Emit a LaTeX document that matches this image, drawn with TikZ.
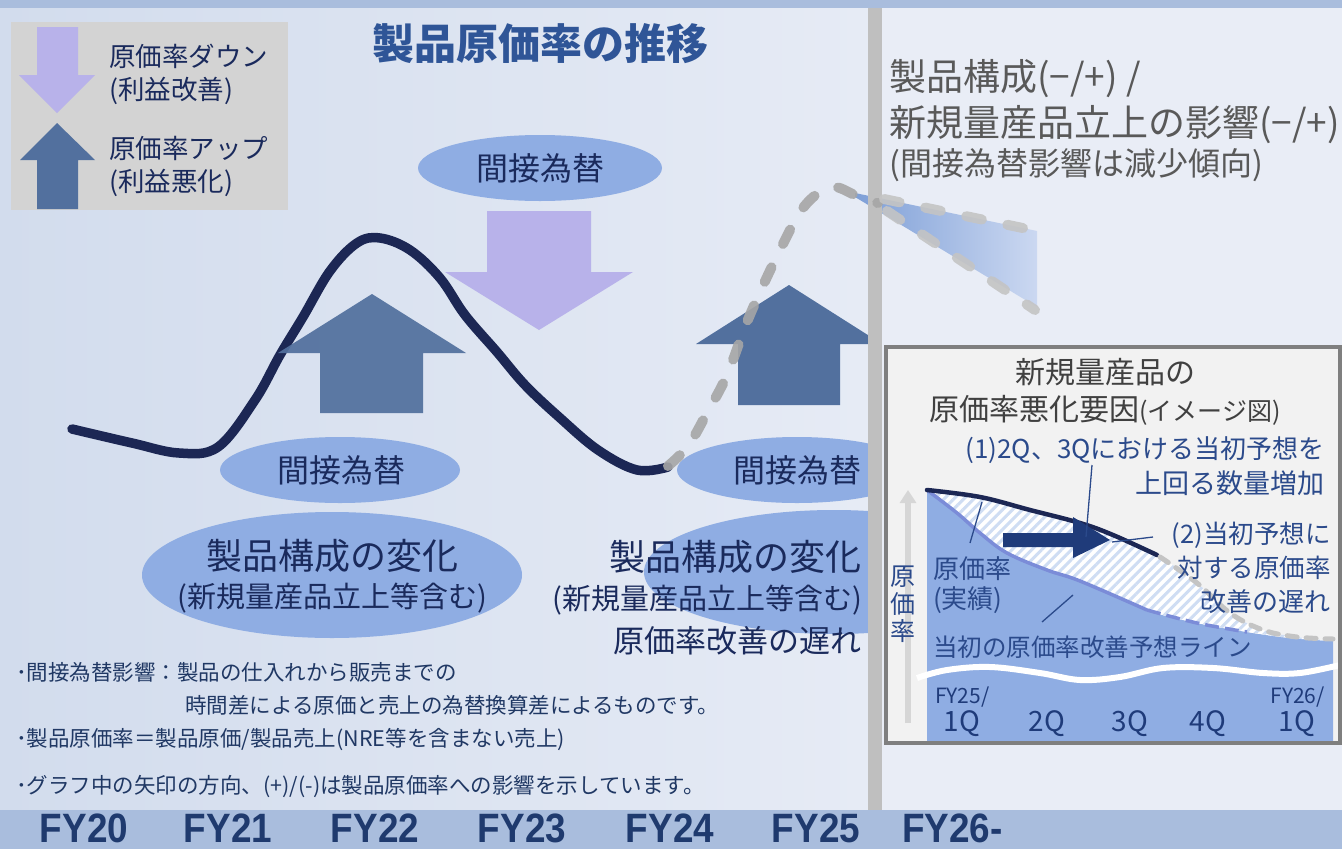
\documentclass[tikz,border=0pt]{standalone}
\usepackage{fontspec}
\newfontfamily\jp{Noto Sans CJK JP}
\newfontfamily\lsb{Liberation Sans}
\usetikzlibrary{patterns.meta,arrows.meta}
\definecolor{bgtop}{HTML}{A9BDDD}
\definecolor{bgL}{HTML}{D2DCED}
\definecolor{bgR}{HTML}{E6EBF5}
\definecolor{bgRt}{HTML}{E9EDF6}
\definecolor{barc}{HTML}{BFBFBF}
\definecolor{legbox}{HTML}{D3D3D3}
\definecolor{lav}{HTML}{B8B2EA}
\definecolor{upc}{HTML}{52709E}
\definecolor{ellc}{HTML}{8FADE3}
\definecolor{navy}{HTML}{1A2A5C}
\definecolor{curvec}{HTML}{1C2754}
\definecolor{titlec}{HTML}{2F5597}
\definecolor{grayt}{HTML}{595959}
\definecolor{dashc}{HTML}{A6A6A6}
\definecolor{dashc2}{HTML}{C4C4C4}
\definecolor{wedgeL}{HTML}{7E9FD7}
\definecolor{wedgeR}{HTML}{CBD8F1}
\definecolor{insetbg}{HTML}{F2F2F2}
\definecolor{insetbd}{HTML}{7F7F7F}
\definecolor{insett}{HTML}{404040}
\definecolor{blt}{HTML}{2B4A8B}
\definecolor{fcline}{HTML}{7B8CD8}
\definecolor{hatchc}{HTML}{CFDDF3}
\definecolor{axc}{HTML}{D6D6D6}
\definecolor{bigarrow}{HTML}{1F3B7A}
\definecolor{notec}{HTML}{203864}
\definecolor{fyc}{HTML}{1F3A6E}
\newcommand{\fsz}[1]{\fontsize{#1}{#1}\selectfont}
\begin{document}
\begin{tikzpicture}[x=1pt,y=-1pt,
 txt/.style={inner sep=0pt},
 legtxt/.style={txt, text=navy, anchor=west, font={\jp\fsz{26.5}}},
 elltxt/.style={txt, text=navy},
 rtxt/.style={txt, text=grayt, anchor=west},
 intxt/.style={txt, text=blt},
 notetxt/.style={txt, text=notec, anchor=west, font={\jp\fsz{21.5}}},
 fylbl/.style={inner sep=0pt, text=fyc, font={\lsb\bfseries\fsz{41}}},
 dashline/.style={line width=10, line cap=round, dash pattern=on 16pt off 26pt},
 leader/.style={blt, line width=1.3},
]
\path[use as bounding box] (0,0) rectangle (1342,849);

% background
\fill[bgtop] (0,0) rectangle (1342,8);
\shade[left color=bgL, right color=bgR] (0,8) rectangle (868,810);
\fill[bgRt] (882,8) rectangle (1342,810);
\fill[bgtop] (0,810) rectangle (1342,849);

% legend
\fill[legbox] (11,22) rectangle (288,210);
\fill[lav] (37,27) -- (78,27) -- (78,75) -- (95,75) -- (57,113) -- (19,75) -- (37,75) -- cycle;
\fill[upc] (57,123) -- (95,160) -- (78,160) -- (78,209) -- (37,209) -- (37,160) -- (20,160) -- cycle;
\node[legtxt] (lg1) at (109,56) {原価率ダウン};
\node[legtxt] (lg2) at (109,91) {(利益改善)};
\node[legtxt] (lg3) at (109,148) {原価率アップ};
\node[legtxt] (lg4) at (109,183) {(利益悪化)};

% title
\node[txt, text=titlec, font={\jp\bfseries\fsz{42}}] (title) at (540,44) {製品原価率の推移};

% left ellipses
\fill[ellc] (540,168) ellipse [x radius=122, y radius=33];
\fill[ellc] (340,470) ellipse [x radius=120, y radius=33];
\fill[ellc] (332,575) ellipse [x radius=190, y radius=63];

% clipped right ellipses
\begin{scope}
\clip (0,8) rectangle (868,810);
\fill[ellc] (797,470) ellipse [x radius=120, y radius=33];
\fill[ellc] (834,572) ellipse [x radius=190, y radius=62];
\end{scope}

% lavender arrow
\fill[lav] (487,211) -- (591,211) -- (591,272) -- (633,272) -- (539,330) -- (445,272) -- (487,272) -- cycle;

% main curve
\draw[curvec, line width=9.5, line cap=round] plot[smooth, tension=0.6] coordinates
 {(72,429) (132,443) (179,453) (218,447) (255,400) (280,355) (303,317) (330,271) (357,243) (380,238) (410,250) (440,278) (465,315) (497,352) (525,385) (559,417) (598,450) (637,470) (668,467)};

% up arrows over the curve
\fill[upc, opacity=0.93] (372,294) -- (466,353) -- (423,353) -- (423,413) -- (320,413) -- (320,353) -- (278,353) -- cycle;
\begin{scope}
\clip (0,8) rectangle (868,810);
\fill[upc] (789,285) -- (882,344) -- (840,344) -- (840,405) -- (738,405) -- (738,344) -- (696,344) -- cycle;
\end{scope}

% wedge right of bar
\shade[left color=wedgeL, right color=wedgeR] (855,193) -- (1037,231) -- (1037,307) -- (855,197) -- cycle;

% vertical bar
\fill[barc] (868,8) rectangle (882,810);

% dashed forecast curves
\draw[dashc, dashline, opacity=0.9] plot[smooth, tension=0.6] coordinates
 {(668,466) (688,446) (707,413) (727,375) (747,322) (767,277) (785,240) (800,212) (817,194) (835,187) (857,196) (878,203)};
\draw[dashc2, dashline, opacity=0.9] (884,199) -- (1037,231);
\draw[dashc2, dashline, opacity=0.9] (887,211) -- (1035,310);

% ellipse texts
\node[elltxt, font={\jp\fsz{32}}] (e1) at (540,168) {間接為替};
\node[elltxt, font={\jp\fsz{32}}] (e2) at (341,470) {間接為替};
\node[elltxt, font={\jp\fsz{36}}] (e3) at (332,556) {製品構成の変化};
\node[elltxt, font={\jp\fsz{29}}] (e4) at (332,598) {(新規量産品立上等含む)};
\node[elltxt, font={\jp\fsz{32}}] (e5) at (797,470) {間接為替};
\node[elltxt, anchor=east, font={\jp\fsz{36}}] (e6) at (862,557) {製品構成の変化};
\node[elltxt, anchor=east, font={\jp\fsz{29}}] (e7) at (862,600) {(新規量産品立上等含む)};
\node[elltxt, anchor=east, font={\jp\fsz{31}}] (e8) at (862,641) {原価率改善の遅れ};

% right top texts
\node[rtxt, font={\jp\fsz{37}}] (t1) at (889,79) {製品構成(−/+) /};
\node[rtxt, font={\jp\fsz{37}}] (t2) at (889,125) {新規量産品立上の影響(−/+)};
\node[rtxt, font={\jp\fsz{32}}] (t3) at (889,165) {(間接為替影響は減少傾向)};

% notes
\node[notetxt] (n1) at (16,672) {･間接為替影響：製品の仕入れから販売までの};
\node[notetxt] (n2) at (185,705) {時間差による原価と売上の為替換算差によるものです。};
\node[notetxt] (n3) at (16,740) {･製品原価率＝製品原価/製品売上(NRE等を含まない売上)};
\node[notetxt] (n4) at (16,787) {･グラフ中の矢印の方向、(+)/(-)は製品原価率への影響を示しています。};

% FY labels
\node[fylbl] (fy20) at (84,828) {\scalebox{0.9}[1]{FY20}};
\node[fylbl] (fy21) at (228,828) {\scalebox{0.9}[1]{FY21}};
\node[fylbl] (fy22) at (375,828) {\scalebox{0.9}[1]{FY22}};
\node[fylbl] (fy23) at (522,828) {\scalebox{0.9}[1]{FY23}};
\node[fylbl] (fy24) at (670,828) {\scalebox{0.9}[1]{FY24}};
\node[fylbl] (fy25) at (816,828) {\scalebox{0.9}[1]{FY25}};
\node[fylbl, anchor=west] (fy26) at (902,828) {\scalebox{0.9}[1]{FY26-}};

% inset
\fill[insetbg] (886,347) rectangle (1340,743);
\begin{scope}
\clip (888,349) rectangle (1338,741);
\fill[ellc] plot[smooth, tension=0.6] coordinates
 {(927,490) (957,513) (980,533) (1007,553) (1047,570) (1080,581) (1147,610) (1197,623) (1247,632) (1290,638) (1333,641)}
 -- (1333,741) -- (927,741) -- cycle;
\fill[white] plot[smooth, tension=0.6] coordinates
 {(927,490) (980,497) (1030,510) (1080,523) (1113,535) (1157,555) (1197,583) (1230,613) (1263,630) (1297,637) (1333,641)}
 -- plot[smooth, tension=0.6] coordinates
 {(1333,641) (1290,638) (1247,632) (1197,623) (1147,610) (1080,581) (1047,570) (1007,553) (980,533) (957,513) (927,490)} -- cycle;
\fill[pattern={Lines[angle=45, distance=7pt, line width=3pt]}, pattern color=hatchc] plot[smooth, tension=0.6] coordinates
 {(927,490) (980,497) (1030,510) (1080,523) (1113,535) (1157,555) (1197,583) (1230,613) (1263,630) (1297,637) (1333,641)}
 -- plot[smooth, tension=0.6] coordinates
 {(1333,641) (1290,638) (1247,632) (1197,623) (1147,610) (1080,581) (1047,570) (1007,553) (980,533) (957,513) (927,490)} -- cycle;
% forecast line
\draw[fcline, line width=3.5] plot[smooth, tension=0.6] coordinates
 {(927,490) (957,513) (980,533) (1007,553) (1047,570) (1080,581) (1147,610)};
\draw[fcline, line width=3.5, dash pattern=on 14pt off 6pt] plot[smooth, tension=0.6] coordinates
 {(1147,610) (1197,623) (1247,632)};
% actual line
\draw[curvec, line width=4.5, line cap=round] plot[smooth, tension=0.6] coordinates
 {(927,490) (980,497) (1030,510) (1080,523) (1113,535) (1157,555)};
\draw[dashc2, line width=5, line cap=round, dash pattern=on 10pt off 9pt] plot[smooth, tension=0.6] coordinates
 {(1160,557) (1197,583) (1230,613) (1263,630) (1297,637) (1333,639)};
% wave break
\draw[white, line width=6] plot[smooth, tension=0.6] coordinates
 {(917,678) (947,670) (990,667) (1040,673) (1080,680) (1120,677) (1163,668) (1213,668) (1263,673) (1300,673) (1340,665)};
% axis arrow
\draw[axc, line width=6, -{Triangle[width=16pt,length=13pt]}] (908,723) -- (908,490);
% big arrow
\fill[bigarrow] (1003,533) -- (1073,533) -- (1073,517) -- (1110,540) -- (1073,558) -- (1073,547) -- (1003,547) -- cycle;
% quarter labels
\node[intxt, text=bigarrow, anchor=west, font={\jp\fsz{21}}] (q0) at (935,697) {FY25/};
\node[intxt, text=bigarrow, font={\jp\fsz{28}}] (q1) at (962,724) {1Q};
\node[intxt, text=bigarrow, font={\jp\fsz{28}}] (q2) at (1047,724) {2Q};
\node[intxt, text=bigarrow, font={\jp\fsz{28}}] (q3) at (1130,724) {3Q};
\node[intxt, text=bigarrow, font={\jp\fsz{28}}] (q4) at (1208,724) {4Q};
\node[intxt, text=bigarrow, anchor=east, font={\jp\fsz{21}}] (q5) at (1325,697) {FY26/};
\node[intxt, text=bigarrow, font={\jp\fsz{28}}] (q6) at (1297,724) {1Q};
\end{scope}
\draw[insetbd, line width=4] (886,347) rectangle (1340,743);

% inset texts
\node[txt, text=insett, font={\jp\fsz{30}}] (i1) at (1105,372) {新規量産品の};
\node[txt, text=insett, font={\jp\fsz{30}}] (i2) at (1105,410) {原価率悪化要因{\fsz{25}(イメージ図)}};
\node[intxt, anchor=east, font={\jp\fsz{26}}] (p1a) at (1325,450) {(1)2Q、3Qにおける当初予想を};
\node[intxt, anchor=east, font={\jp\fsz{27}}] (p1b) at (1325,483) {上回る数量増加};
\node[intxt, anchor=east, font={\jp\fsz{25.5}}] (p2a) at (1331,535) {(2)当初予想に};
\node[intxt, anchor=east, font={\jp\fsz{25.5}}] (p2b) at (1331,568) {対する原価率};
\node[intxt, anchor=east, font={\jp\fsz{26}}] (p2c) at (1331,602) {改善の遅れ};
\node[intxt, anchor=west, font={\jp\fsz{26}}] (act1) at (933,569) {原価率};
\node[intxt, anchor=west, font={\jp\fsz{26}}] (act2) at (933,600) {(実績)};
\node[intxt, anchor=west, font={\jp\fsz{24.5}}] (fc) at (933,647) {当初の原価率改善予想ライン};
\node[intxt, font={\jp\fsz{25}}] (v1) at (903,577) {原};
\node[intxt, font={\jp\fsz{25}}] (v2) at (903,604) {価};
\node[intxt, font={\jp\fsz{25}}] (v3) at (903,631) {率};

% leaders
\coordinate (c1) at (982,502);
\coordinate (c2) at (1073,595);
\coordinate (c3) at (1086,537);
\coordinate (c4) at (1112,542);
\draw[leader] (970,543) -- (c1);
\draw[leader] (1042,622) -- (c2);
\draw[leader] (1092,465) -- (c3);
\draw[leader] (c4) -- (1153,537);
\end{tikzpicture}
\end{document}
